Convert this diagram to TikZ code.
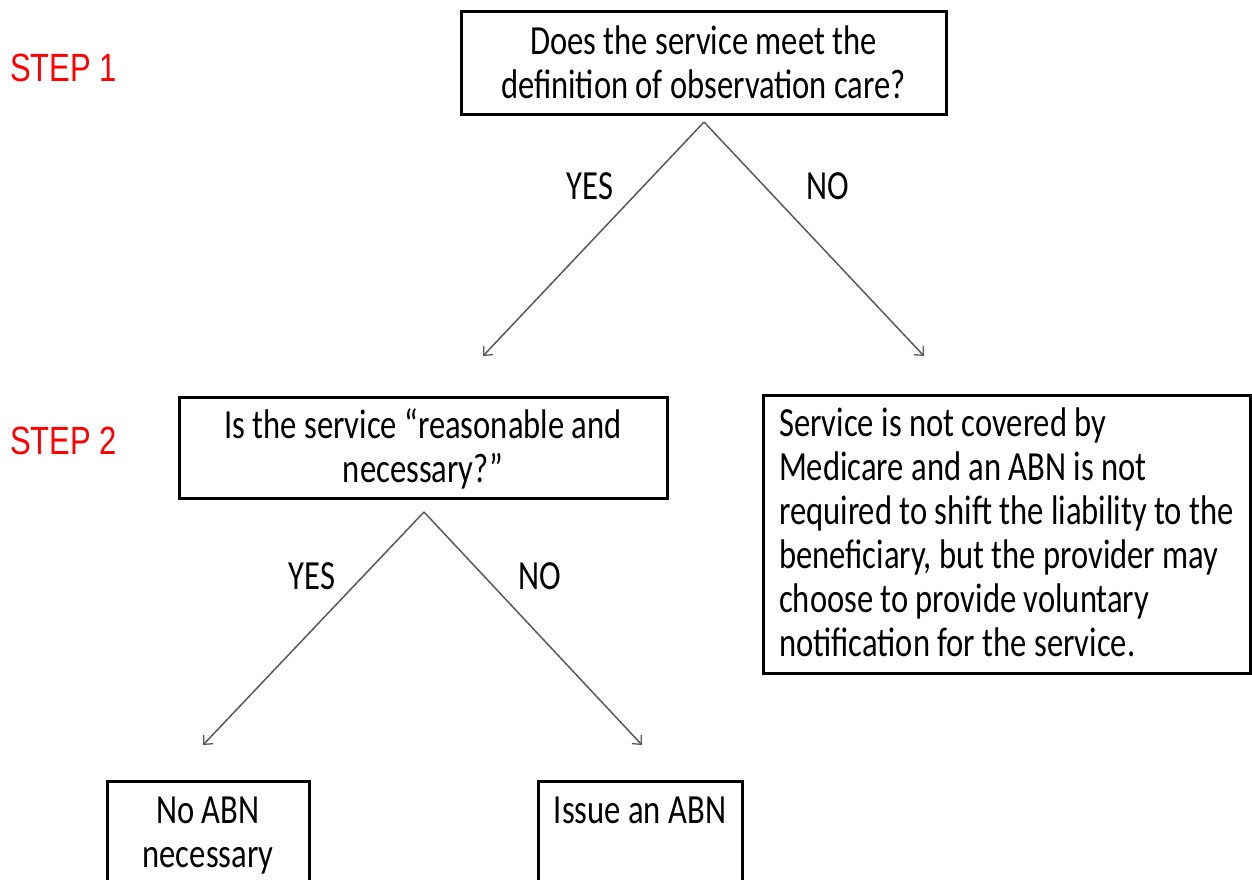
\documentclass[tikz,border=0pt]{standalone}
\usepackage{fontspec}
\setmainfont{Carlito}
\newfontfamily\stepfont{Liberation Sans}
\usetikzlibrary{arrows.meta}
\newcommand{\vstr}[1]{\scalebox{1}[1.27]{#1}}
\newcommand{\dn}[1]{\raisebox{-4pt}[\height][\depth]{#1}}
\newcommand{\boxfont}{\fontsize{32.6pt}{34.6pt}\selectfont}
\begin{document}
\begin{tikzpicture}[x=1pt,y=-1pt,
  qbox/.style={draw=black, line width=3pt, inner sep=0pt, align=center, font=\boxfont},
  lbl/.style={inner sep=0pt, font=\boxfont},
  steplbl/.style={inner sep=0pt, anchor=west, text=red, font=\stepfont\fontsize{31pt}{34pt}\selectfont},
  conn/.style={draw=black!65, line width=1.5pt, -{Straight Barb[length=7pt,width=13pt,line width=1.3pt]}}
]
\clip (0,0) rectangle (1252,880);
\fill[white] (0,0) rectangle (1252,880);

\node[steplbl] (s1) at (10,68) {\vstr{STEP 1}};
\node[steplbl] (s2) at (10,441) {\vstr{STEP 2}};

\node[qbox, minimum width=485, minimum height=103] (q1) at (703.5,63.5)
  {\dn{\vstr{\begin{tabular}{@{}c@{}}Does the service meet the\\definition of observation care?\end{tabular}}}};

\node[qbox, minimum width=488, minimum height=101] (q2) at (423,447.5)
  {\dn{\vstr{\begin{tabular}{@{}c@{}}Is the service “reasonable and\\necessary?”\end{tabular}}}};

\node[qbox, minimum width=487, minimum height=278] (nc) at (1006.5,534)
  {\dn{\vstr{\begin{tabular}{@{}l@{}}Service is not covered by\\Medicare and an ABN is not\\required to shift the liability to the\\beneficiary, but the provider may\\choose to provide voluntary\\notification for the service.\end{tabular}}}};

\node[qbox, minimum width=202, minimum height=104] (noabn) at (208,833)
  {\dn{\vstr{\begin{tabular}{@{}c@{}}No ABN\\necessary\end{tabular}}}};
\node[qbox, minimum width=204, minimum height=104] (issue) at (640,833)
  {\dn{\vstr{\begin{tabular}{@{}c@{}}Issue an ABN\\\phantom{necessary}\end{tabular}}}};

\coordinate (a1) at (483,356);
\coordinate (a2) at (924,356);
\coordinate (b1) at (203,745);
\coordinate (b2) at (642,745);
\coordinate (q1s) at (704,122);
\coordinate (q2s) at (424,512);

\draw[conn] (q1s) -- (a1);
\draw[conn] (q1s) -- (a2);
\draw[conn] (q2s) -- (b1);
\draw[conn] (q2s) -- (b2);

\node[lbl] (y1) at (590,186) {\vstr{YES}};
\node[lbl] (n1) at (828,186) {\vstr{NO}};
\node[lbl] (y2) at (312,576) {\vstr{YES}};
\node[lbl] (n2) at (540,576) {\vstr{NO}};
\end{tikzpicture}
\end{document}
